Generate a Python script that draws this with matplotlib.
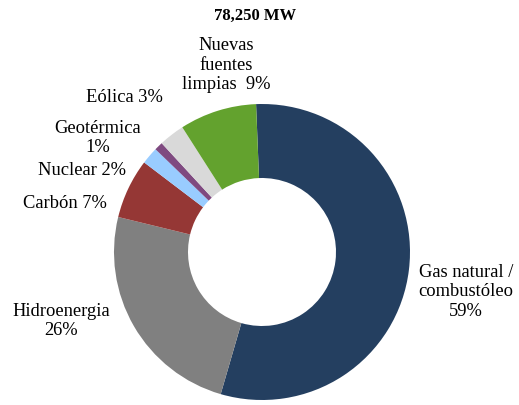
import matplotlib.pyplot as plt

# capacidad instalada por fuente (%)
fuentes = ["Gas natural /\ncombustóleo", "Hidroenergia", "Carbón", "Nuclear",
           "Geotérmica", "Eólica", "Nuevas\nfuentes\nlimpias"]
porcentajes = [59, 26, 7, 2, 1, 3, 9]
total = "78,250 MW"

colores = ["#243F60", "#808080", "#953735", "#99CCFF",
           "#7F4A80", "#D9D9D9", "#63A22E"]
separador = ["\n", "\n", " ", " ", "\n", " ", "  "]
# centro de cada etiqueta en pixeles (x, y desde arriba)
posiciones = [(466, 292), (61, 321), (65, 204), (82, 171),
              (98, 138), (124, 97), (226, 65)]

plt.rcParams['font.family'] = 'Liberation Serif'
W, H = 519, 406
fig = plt.figure(figsize=(W / 100, H / 100), dpi=100)
ax = fig.add_axes([0, 0, 1, 1])

ax.pie(porcentajes, colors=colores, startangle=92.3, counterclock=False,
       radius=1, wedgeprops=dict(width=0.5, linewidth=0))

# centro del anillo en (262, 253) px, radio 148 px
cx, cy, r = 262, 253, 148
ax.set_xlim(-cx / r, (W - cx) / r)
ax.set_ylim(-(H - cy) / r, cy / r)
ax.set_aspect('auto')
ax.axis('off')

for nombre, valor, sep, (x, y) in zip(fuentes, porcentajes, separador, posiciones):
    fig.text(x / W, 1 - y / H, f"{nombre}{sep}{valor}%", ha='center', va='center',
             fontsize=13.3, linespacing=1.2)

fig.text(255 / W, 1 - 16 / H, total, ha='center', va='center',
         fontsize=12, fontweight='bold')

fig.savefig('out.png', dpi=100)
